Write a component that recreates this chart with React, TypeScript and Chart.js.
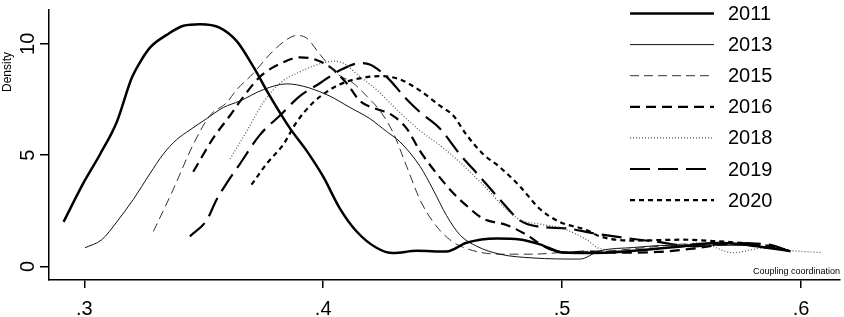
import React, { useEffect, useRef } from "react";
import { Chart, registerables } from "chart.js";

Chart.register(...registerables);

const YEARS = ["2011", "2013", "2015", "2016", "2018", "2019", "2020"];

const X_2011 = [0.2913, 0.2996, 0.3066, 0.3136, 0.3198, 0.3233, 0.3275, 0.3345, 0.3415, 0.3484, 0.3568, 0.3638, 0.3708, 0.3777, 0.3861, 0.3931, 0.4, 0.407, 0.414, 0.4223, 0.4293, 0.4391, 0.4516, 0.46, 0.4726, 0.4823, 0.4907, 0.5004, 0.51, 0.52, 0.535, 0.55, 0.565, 0.575, 0.585, 0.595];
const Y_2011 = [2.0, 3.74, 5.04, 6.49, 8.45, 9.17, 9.83, 10.4, 10.81, 10.88, 10.72, 10.12, 8.96, 7.65, 6.2, 5.19, 4.03, 2.6, 1.57, 0.84, 0.6, 0.7, 0.67, 1.06, 1.25, 1.21, 0.99, 0.62, 0.6, 0.62, 0.75, 0.9, 1.05, 1.0, 0.85, 0.7];

const X_2013 = [0.3003, 0.3073, 0.3136, 0.3205, 0.3275, 0.333, 0.3387, 0.3442, 0.3512, 0.3582, 0.3651, 0.3749, 0.3847, 0.3889, 0.3944, 0.4028, 0.4112, 0.4195, 0.4265, 0.4321, 0.4405, 0.446, 0.4516, 0.4572, 0.4642, 0.4739, 0.4878, 0.5074, 0.5158, 0.53, 0.545, 0.56, 0.575, 0.59];
const Y_2013 = [0.84, 1.2, 2.0, 3.01, 4.17, 5.04, 5.7, 6.13, 6.64, 7.14, 7.43, 7.94, 8.2, 8.16, 8.01, 7.65, 7.14, 6.64, 6.06, 5.6, 4.5, 3.45, 2.29, 1.42, 0.91, 0.55, 0.38, 0.33, 0.7, 0.85, 0.95, 0.95, 0.95, 0.8];

const X_2015 = [0.3289, 0.3372, 0.3456, 0.3526, 0.3596, 0.3638, 0.3707, 0.3777, 0.3847, 0.3889, 0.393, 0.3986, 0.4056, 0.4126, 0.4182, 0.4237, 0.4293, 0.4349, 0.4405, 0.446, 0.453, 0.46, 0.4739, 0.4878, 0.499, 0.5074, 0.52, 0.535, 0.55, 0.565, 0.58, 0.59];
const Y_2015 = [1.57, 3.45, 5.48, 6.78, 7.36, 7.94, 8.67, 9.53, 10.19, 10.37, 10.26, 9.53, 8.67, 8.23, 7.65, 7.0, 6.0, 4.5, 3.0, 2.0, 1.2, 0.8, 0.55, 0.55, 0.62, 0.67, 0.7, 0.85, 1.0, 1.05, 0.95, 0.8];

const X_2016 = [0.3456, 0.354, 0.361, 0.3651, 0.3735, 0.3819, 0.3902, 0.3958, 0.4028, 0.4098, 0.4154, 0.4223, 0.4279, 0.4349, 0.4405, 0.4475, 0.4544, 0.46, 0.467, 0.4767, 0.4851, 0.4935, 0.5018, 0.5102, 0.525, 0.54, 0.555, 0.57, 0.585, 0.5965];
const Y_2016 = [4.25, 5.77, 6.78, 7.4, 8.52, 9.1, 9.39, 9.32, 8.96, 8.23, 7.43, 7.07, 6.86, 6.2, 5.19, 4.17, 3.3, 2.73, 2.14, 1.86, 1.42, 0.84, 0.62, 0.67, 0.62, 0.65, 0.8, 1.0, 0.95, 0.65];

const X_2018 = [0.361, 0.3679, 0.3749, 0.3819, 0.3902, 0.3986, 0.4042, 0.4084, 0.4154, 0.4223, 0.4293, 0.4363, 0.4405, 0.4502, 0.46, 0.4684, 0.4753, 0.4823, 0.4907, 0.5004, 0.5102, 0.5158, 0.53, 0.545, 0.5577, 0.5714, 0.5855, 0.597, 0.609];
const Y_2018 = [4.83, 6.06, 7.36, 8.23, 8.74, 9.1, 9.22, 9.13, 8.52, 7.94, 7.2, 6.5, 6.1, 5.33, 4.4, 3.5, 2.7, 2.1, 1.9, 1.7, 1.2, 0.8, 0.7, 0.85, 1.06, 0.62, 0.84, 0.7, 0.62];

const X_2019 = [0.3442, 0.3512, 0.3554, 0.3596, 0.3651, 0.3735, 0.3819, 0.3902, 0.3986, 0.407, 0.4154, 0.4195, 0.4265, 0.4349, 0.4405, 0.4488, 0.4572, 0.4656, 0.4739, 0.4823, 0.4907, 0.5018, 0.513, 0.525, 0.54, 0.555, 0.57, 0.585, 0.5965];
const Y_2019 = [1.35, 2.07, 3.01, 3.74, 4.6, 5.91, 6.78, 7.65, 8.23, 8.81, 9.13, 9.07, 8.52, 7.51, 6.93, 6.2, 5.04, 4.03, 3.01, 2.07, 1.78, 1.71, 1.49, 1.3, 1.1, 0.9, 1.05, 1.0, 0.65];

const X_2020 = [0.37, 0.3763, 0.3833, 0.3889, 0.3958, 0.4028, 0.4098, 0.4154, 0.4237, 0.4321, 0.4405, 0.4488, 0.4544, 0.46, 0.467, 0.4739, 0.4823, 0.4907, 0.499, 0.5102, 0.5158, 0.5296, 0.5505, 0.5646, 0.58, 0.5855];
const Y_2020 = [3.67, 4.61, 5.48, 6.49, 7.36, 7.94, 8.3, 8.45, 8.55, 8.4, 7.9, 7.22, 6.78, 5.91, 5.04, 4.46, 3.6, 2.58, 2.0, 1.64, 1.35, 1.16, 1.2, 1.13, 0.99, 0.84];

const X_TICKS = [0.3, 0.4, 0.5, 0.6];
const X_TICK_LABELS = [".3", ".4", ".5", ".6"];
const Y_TICKS = [0, 5, 10];
const Y_TICK_LABELS = ["0", "5", "10"];
const X_TITLE = "Coupling coordination";
const Y_TITLE = "Density";

const SERIES_X = [X_2011, X_2013, X_2015, X_2016, X_2018, X_2019, X_2020];
const SERIES_Y = [Y_2011, Y_2013, Y_2015, Y_2016, Y_2018, Y_2019, Y_2020];

const LINE_WIDTHS = [2.5, 1, 1, 2.2, 1.2, 2.2, 2.2];
const LINE_DASHES = [[], [], [9, 5], [10, 6], [1, 2], [20, 8], [5, 4]];
const LINE_COLORS = ["#000", "#111", "#333", "#000", "#555", "#000", "#000"];

const FONT = '"Liberation Sans", Arial, sans-serif';

const overlayPlugin = {
  id: "overlay",
  afterDraw(chart: any) {
    const ctx = chart.ctx as CanvasRenderingContext2D;
    const ys = chart.scales.y;
    ctx.save();
    ctx.fillStyle = "#000";
    // y tick labels (rotated)
    ctx.font = "20px " + FONT;
    ctx.textAlign = "center";
    ctx.textBaseline = "alphabetic";
    Y_TICKS.forEach((v, i) => {
      const py = ys.getPixelForValue(v);
      ctx.save();
      ctx.translate(33.5, py);
      ctx.rotate(-Math.PI / 2);
      ctx.fillText(Y_TICK_LABELS[i], 0, 0);
      ctx.restore();
    });
    // y title
    ctx.font = "12px " + FONT;
    ctx.save();
    ctx.translate(10.5, 72);
    ctx.rotate(-Math.PI / 2);
    ctx.textAlign = "center";
    ctx.fillText(Y_TITLE, 0, 0);
    ctx.restore();
    // x title
    ctx.font = "9px " + FONT;
    ctx.textAlign = "right";
    ctx.textBaseline = "middle";
    ctx.fillText(X_TITLE, 840, 271.5);
    // legend
    ctx.font = "20px " + FONT;
    ctx.textAlign = "left";
    ctx.textBaseline = "middle";
    YEARS.forEach((yr, i) => {
      const y = 13.5 + i * 31.1;
      ctx.save();
      ctx.strokeStyle = LINE_COLORS[i];
      ctx.lineWidth = LINE_WIDTHS[i];
      ctx.setLineDash(LINE_DASHES[i]);
      ctx.beginPath();
      ctx.moveTo(630, y);
      ctx.lineTo(714, y);
      ctx.stroke();
      ctx.restore();
      ctx.fillText(yr, 728, y + 1);
    });
    ctx.restore();
  },
};

export default function App() {
  const ref = useRef<HTMLCanvasElement | null>(null);
  useEffect(() => {
    if (!ref.current) return;
    const datasets = YEARS.map((yr, i) => ({
      label: yr,
      data: SERIES_X[i].map((x, j) => ({ x, y: SERIES_Y[i][j] })),
      borderColor: LINE_COLORS[i],
      borderWidth: LINE_WIDTHS[i],
      borderDash: LINE_DASHES[i],
      pointRadius: 0,
      fill: false,
      cubicInterpolationMode: "monotone" as const,
    }));
    const chart = new Chart(ref.current, {
      type: "line",
      data: { datasets },
      options: {
        animation: false,
        responsive: true,
        maintainAspectRatio: false,
        layout: { padding: { top: 2, right: 4, left: 0, bottom: 0 } },
        plugins: { legend: { display: false }, tooltip: { enabled: false } },
        scales: {
          x: {
            type: "linear",
            min: 0.28522,
            max: 0.61632,
            afterBuildTicks: (s: any) => {
              s.ticks = X_TICKS.map((v) => ({ value: v }));
            },
            afterFit: (s: any) => {
              s.height = 37;
            },
            ticks: {
              autoSkip: false,
              maxRotation: 0,
              padding: 9,
              color: "#000",
              font: { family: FONT, size: 20 },
              callback: (_v: any, i: number) => X_TICK_LABELS[i],
            },
            grid: { drawOnChartArea: false, drawTicks: true, tickLength: 8, color: "#000", lineWidth: 1.5 },
            border: { display: true, color: "#000", width: 1.5 },
          },
          y: {
            type: "linear",
            min: -0.61,
            max: 11.51,
            afterBuildTicks: (s: any) => {
              s.ticks = Y_TICKS.map((v) => ({ value: v }));
            },
            afterFit: (s: any) => {
              s.width = 49;
            },
            ticks: { autoSkip: false, callback: () => "" },
            grid: { drawOnChartArea: false, drawTicks: true, tickLength: 9, color: "#000", lineWidth: 1.5 },
            border: { display: true, color: "#000", width: 1.5 },
          },
        },
      },
      plugins: [overlayPlugin],
    });
    return () => chart.destroy();
  }, []);
  return (
    <div style={{ position: "absolute", left: 0, top: 0, width: 844, height: 317, background: "#fff" }}>
      <canvas ref={ref} />
    </div>
  );
}
